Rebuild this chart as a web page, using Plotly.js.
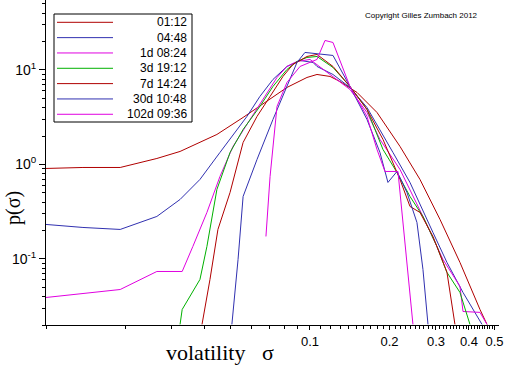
<!DOCTYPE html>
<html><head><meta charset="utf-8">
<script src="https://cdn.plot.ly/plotly-3.0.1.min.js"></script>
<style>html,body{margin:0;padding:0;background:#fff}#chart{width:512px;height:366px}</style>
</head><body><div id="chart"></div>
<script>
// ---- data ----
const seriesNames = ['01:12', '04:48', '1d 08:24', '3d 19:12', '7d 14:24', '30d 10:48', '102d 09:36'];
const seriesColors = ['#b00000', '#3030b0', '#e000e0', '#00b000', '#b00000', '#3030b0', '#e000e0'];

const sigma_0112 = [0.0100,0.0138,0.0191,0.0263,0.0322,0.0383,0.0444,0.0558,0.0687,0.0818,0.0974,0.1063,0.1191,0.1299,0.1507,0.1794,0.2193,0.2610,0.3108,0.3700,0.4405,0.4683];
const p_0112     = [0.907,0.929,0.929,1.157,1.373,1.709,2.077,3.144,4.642,6.53,8.33,8.96,8.54,7.55,5.78,3.55,1.551,0.694,0.262,0.0918,0.0292,0.0203];

const sigma_0448 = [0.0100,0.0138,0.0191,0.0263,0.0322,0.0383,0.0456,0.0511,0.0577,0.0646,0.0724,0.0818,0.0917,0.1027,0.1063,0.1222,0.1417,0.1644,0.1841,0.2062,0.2392,0.2679,0.2923,0.3303,0.3799,0.4483];
const p_0448     = [0.2318,0.2154,0.2052,0.2817,0.4262,0.694,1.340,2.077,3.221,5.243,7.93,10.89,12.60,12.01,10.89,8.96,6.53,4.01,2.346,1.340,0.645,0.318,0.1907,0.0918,0.0442,0.0203];

const sigma_1d = [0.0100,0.0191,0.0263,0.0328,0.0360,0.0407,0.0456,0.0511,0.0593,0.0664,0.0750,0.0818,0.0893,0.1000,0.1222,0.1417,0.1644,0.1841,0.2193,0.2679,0.3190,0.3700,0.3799,0.4405,0.4683];
const p_1d     = [0.0391,0.0475,0.0737,0.0737,0.1356,0.3105,0.746,1.551,2.994,4.873,8.33,10.89,12.30,12.92,8.54,6.22,3.55,1.84,0.885,0.2817,0.0988,0.0512,0.0278,0.0272,0.0203];

const sigma_3d = [0.0322,0.0328,0.0383,0.0407,0.0444,0.0498,0.0558,0.0646,0.0724,0.0818,0.0893,0.0974,0.1063,0.1222,0.1417,0.1644,0.1890,0.2136,0.2392,0.2679,0.3027,0.3303,0.3700,0.4036];
const p_3d     = [0.0203,0.0292,0.0607,0.1356,0.5437,1.340,2.346,4.11,6.69,10.12,12.30,13.56,13.89,10.63,6.69,3.82,1.441,0.823,0.4585,0.2817,0.1356,0.0720,0.0442,0.0203];

const sigma_7d = [0.0390,0.0418,0.0448,0.0498,0.0558,0.0630,0.0706,0.0790,0.0862,0.0974,0.1063,0.1222,0.1417,0.1644,0.1890,0.2193,0.2392,0.2610,0.2923,0.3303,0.3541];
const p_7d     = [0.0203,0.0607,0.2052,0.5056,1.709,3.221,5.243,8.54,11.44,13.89,14.59,10.89,6.69,3.82,1.84,0.694,0.3594,0.3105,0.173,0.0720,0.0203];

const sigma_30d = [0.0506,0.0534,0.0558,0.0630,0.0724,0.0818,0.0893,0.0957,0.1222,0.1417,0.1644,0.1841,0.1974,0.2136,0.2330,0.2542,0.2679,0.2799];
const p_30d     = [0.0203,0.0988,0.4585,1.129,2.994,6.69,12.01,15.32,14.24,6.69,2.994,1.340,0.645,0.843,0.5056,0.2433,0.0774,0.0203];

const sigma_102d = [0.0681,0.0706,0.0750,0.0818,0.0917,0.1063,0.1140,0.1222,0.1417,0.1644,0.1794,0.1923,0.2154,0.2455];
const p_102d     = [0.173,0.746,4.11,7.37,10.89,12.92,20.52,19.54,6.69,3.221,1.441,0.843,0.843,0.0203];

const xTickVals = [0.1, 0.2, 0.3, 0.4, 0.5];
const xTickText = ['0.1', '0.2', '0.3', '0.4', '0.5'];
const yTickVals = [0.1, 1, 10];
const yTickText = ['10<sup>-1</sup>', '10<sup>0</sup>', '10<sup>1</sup>'];

const xTitle = 'volatility\u00a0\u00a0\u00a0σ';
const yTitle = 'p(σ)';
const copyright = 'Copyright Gilles Zumbach 2012';

// ---- build ----
const sigmas = [sigma_0112, sigma_0448, sigma_1d, sigma_3d, sigma_7d, sigma_30d, sigma_102d];
const ps = [p_0112, p_0448, p_1d, p_3d, p_7d, p_30d, p_102d];

const traces = seriesNames.map((n, i) => ({
  type: 'scatter', mode: 'lines', name: n,
  x: sigmas[i], y: ps[i],
  line: {color: seriesColors[i], width: 1},
  showlegend: false, hoverinfo: 'skip', cliponaxis: true
}));

// minor ticks
const xMinor = [];
for (let k = 1; k <= 50; k++) { const v = k / 100; if (xTickVals.indexOf(v) < 0) xMinor.push(v); }
const yMinor = [];
[0.01, 0.1, 1, 10].forEach(d => { for (let m = 2; m <= 9; m++) yMinor.push(m * d); });

// plot area in pixels
const L = 46, R = 13, T = 0, B = 41, W = 512, H = 366;
const PW = W - L - R, PH = H - T - B;
const px = v => (v - L) / PW;
const py = v => 1 - (v - T) / PH;

const shapes = [{
  type: 'rect', xref: 'paper', yref: 'paper',
  x0: px(54), x1: px(192), y0: py(122), y1: py(14),
  line: {color: '#000', width: 1}, fillcolor: '#fff', layer: 'above'
}];
const annotations = [];
seriesNames.forEach((n, i) => {
  const yy = 22.3 + 15.33 * i;
  shapes.push({type: 'line', xref: 'paper', yref: 'paper', x0: px(57), x1: px(113), y0: py(yy), y1: py(yy),
    line: {color: seriesColors[i], width: 1}, layer: 'above'});
  annotations.push({xref: 'paper', yref: 'paper', x: px(189), y: py(yy), xanchor: 'right', yanchor: 'middle',
    text: n, showarrow: false, font: {family: 'Liberation Sans, Arial, sans-serif', size: 12, color: '#000'}});
});
annotations.push({xref: 'paper', yref: 'paper', x: px(421), y: py(15), xanchor: 'center', yanchor: 'middle',
  text: copyright, showarrow: false, font: {family: 'Liberation Sans, Arial, sans-serif', size: 8, color: '#000'}});
annotations.push({xref: 'paper', yref: 'paper', x: px(220), y: py(352), xanchor: 'center', yanchor: 'middle',
  text: xTitle, showarrow: false, font: {family: 'Liberation Serif, Times New Roman, serif', size: 22, color: '#000'}});
annotations.push({xref: 'paper', yref: 'paper', x: px(13), y: py(208), xanchor: 'center', yanchor: 'middle',
  text: yTitle, textangle: -90, showarrow: false, font: {family: 'Liberation Serif, Times New Roman, serif', size: 20, color: '#000'}});

const layout = {
  width: W, height: H,
  margin: {l: L, r: R, t: T, b: B, pad: 0},
  paper_bgcolor: '#fff', plot_bgcolor: '#fff',
  showlegend: false,
  font: {family: 'Liberation Sans, Arial, sans-serif', size: 13, color: '#000'},
  xaxis: {
    type: 'log', range: [-2, Math.log10(0.52)],
    showline: true, linecolor: '#000', linewidth: 1, mirror: false,
    showgrid: false, zeroline: false,
    tickmode: 'array', tickvals: xTickVals, ticktext: xTickText,
    ticks: 'outside', ticklen: 4, tickcolor: '#000', tickwidth: 1,
    tickfont: {family: 'Liberation Sans, Arial, sans-serif', size: 13, color: '#000'},
    minor: {tickmode: 'array', tickvals: xMinor, ticks: 'outside', ticklen: 3, tickcolor: '#000', tickwidth: 1, showgrid: false}
  },
  yaxis: {
    type: 'log', range: [Math.log10(0.02), Math.log10(55)],
    showline: true, linecolor: '#000', linewidth: 1, mirror: false,
    showgrid: false, zeroline: false,
    tickmode: 'array', tickvals: yTickVals, ticktext: yTickText,
    ticks: 'outside', ticklen: 6, tickcolor: '#000', tickwidth: 1,
    tickfont: {family: 'Liberation Sans, Arial, sans-serif', size: 14, color: '#000'},
    minor: {tickmode: 'array', tickvals: yMinor, ticks: 'outside', ticklen: 3, tickcolor: '#000', tickwidth: 1, showgrid: false}
  },
  shapes: shapes,
  annotations: annotations
};

Plotly.newPlot('chart', traces, layout, {staticPlot: true, displayModeBar: false});
</script>
</body></html>
